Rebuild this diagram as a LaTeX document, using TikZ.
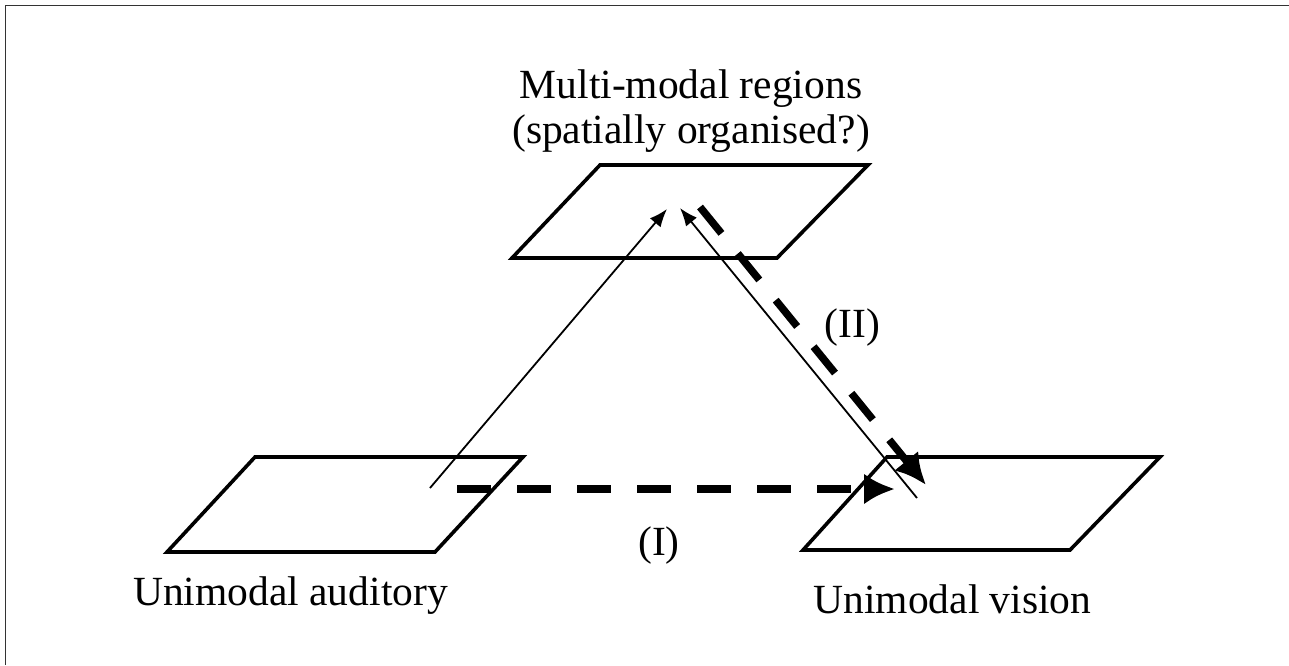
\documentclass[tikz,border=0pt]{standalone}
\usepackage{fontspec}
\setmainfont{Liberation Serif}
\usetikzlibrary{arrows.meta}
\begin{document}
\begin{tikzpicture}[x=1pt,y=-1pt,
  plane/.style={line width=3.6pt,line join=miter},
  thinarrow/.style={line width=1.8pt,-{Latex[length=18pt,width=14pt]}},
  dasharrow/.style={line width=7.5pt,dash pattern=on 34pt off 26pt,-{Latex[length=31pt,width=31pt]}},
  lbl/.style={font=\fontsize{41.5}{45}\selectfont,anchor=base,inner sep=0pt,align=center}]
\useasboundingbox (0,0) rectangle (1289,665);
\fill[white] (0,0) rectangle (1289,665);
% frame
\draw[line width=1.8pt,black!80] (5.5,665) -- (5.5,5.5) -- (1289,5.5);
% planes
\draw[plane] (512,258) -- (600,165) -- (868,165) -- (777,258) -- cycle;
\draw[plane] (167,552) -- (255,457) -- (523,457) -- (435,552) -- cycle;
\draw[plane] (803,550) -- (887,457) -- (1160,457) -- (1070,550) -- cycle;
% labels
\node[lbl] (mm) at (691,143) {Multi-modal regions\\(spatially organised?)};
\node[lbl] (aud) at (290.5,605) {Unimodal auditory};
\node[lbl] (vis) at (952.5,613) {Unimodal vision};
\node[lbl] (one) at (659,555) {(I)};
\node[lbl] (two) at (852.5,337) {(II)};
% arrow end points
\coordinate (a1s) at (430,488);
\coordinate (a1e) at (667,209);
\coordinate (a2s) at (917,498);
\coordinate (a2e) at (680,208);
\coordinate (d1s) at (457,489);
\coordinate (d1e) at (895,489);
\coordinate (d2s) at (700,207);
\coordinate (d2e) at (926,485);
% connectors
\draw[thinarrow] (a1s) -- (a1e);
\draw[thinarrow] (a2s) -- (a2e);
\draw[dasharrow] (d1s) -- (d1e);
\draw[dasharrow] (d2s) -- (d2e);
\end{tikzpicture}
\end{document}
